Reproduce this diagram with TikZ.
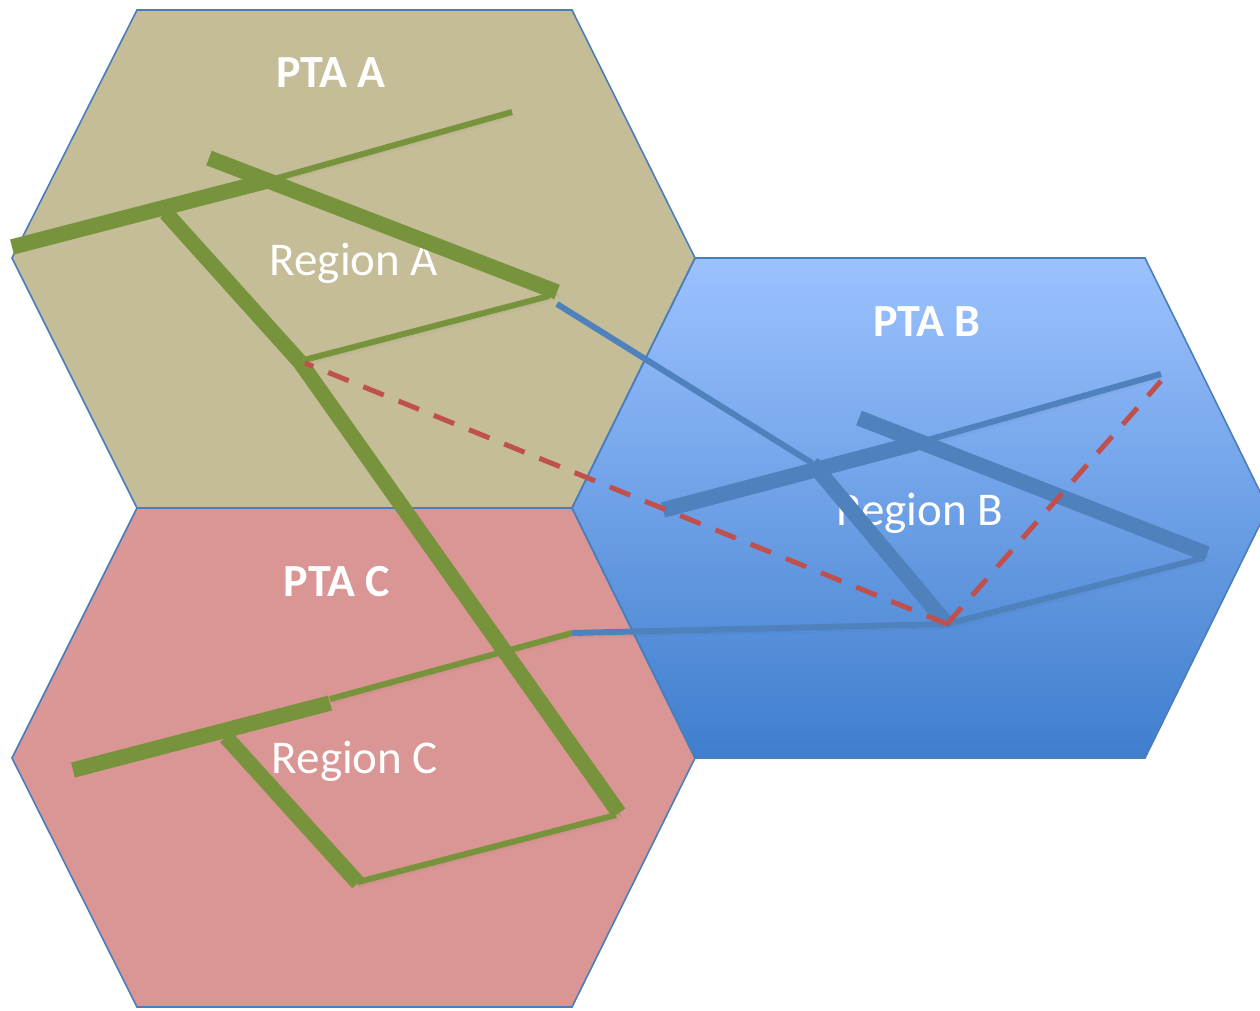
\documentclass[tikz,border=0pt]{standalone}
\usepackage{fontspec}
\setmainfont{Carlito}
\definecolor{tanfill}{HTML}{C4BD97}
\definecolor{pinkfill}{HTML}{D99694}
\definecolor{bluetop}{HTML}{9CC2FF}
\definecolor{bluebot}{HTML}{3F7ECD}
\definecolor{edgeblue}{HTML}{4A7EBB}
\definecolor{roadgreen}{HTML}{77933C}
\definecolor{roadblue}{HTML}{4F81BD}
\definecolor{dashred}{HTML}{C0504D}
\begin{document}
\begin{tikzpicture}[x=1pt,y=-1pt,
  hexedge/.style={draw=edgeblue,line width=1.6pt,line join=miter},
  shd/.style={preaction={draw=black,draw opacity=0.06,transform canvas={shift={(3,5)}}},
              preaction={draw=black,draw opacity=0.09,transform canvas={shift={(2,3.5)}}},
              preaction={draw=black,draw opacity=0.12,transform canvas={shift={(1,2)}}}},
  thickgreen/.style={draw=roadgreen,line width=15.5pt,shd},
  thingreen/.style={draw=roadgreen,line width=6pt,shd},
  thickblue/.style={draw=roadblue,line width=15.5pt,shd},
  thinblue/.style={draw=roadblue,line width=6pt,shd},
  reddash/.style={draw=dashred,line width=5pt,dash pattern=on 22pt off 16pt},
  ptalabel/.style={anchor=base,text=white,font=\fontsize{46}{50}\selectfont\bfseries,inner sep=0pt},
  reglabel/.style={anchor=base,text=white,font=\fontsize{47}{50}\selectfont,inner sep=0pt}
]
\useasboundingbox (0,0) rectangle (1260,1010);
\begin{scope}
\clip (0,0) rectangle (1260,1010);
% hexagons
\fill[tanfill] (12,258) -- (137,10) -- (572,10) -- (695,258) -- (572,508) -- (137,508) -- cycle;
\fill[pinkfill] (12,758) -- (137,508) -- (572,508) -- (695,758) -- (572,1007) -- (137,1007) -- cycle;
\shade[top color=bluetop,bottom color=bluebot] (572,508) -- (695,258) -- (1145,258) -- (1268,508) -- (1145,758) -- (695,758) -- cycle;
\draw[hexedge] (12,258) -- (137,10) -- (572,10) -- (695,258) -- (572,508) -- (137,508) -- cycle;
\draw[hexedge] (12,758) -- (137,508) -- (572,508) -- (695,758) -- (572,1007) -- (137,1007) -- cycle;
\draw[hexedge] (572,508) -- (695,258) -- (1145,258) -- (1268,508) -- (1145,758) -- (695,758) -- cycle;
% labels
\node[ptalabel] (ptaA) at (331,87) {PTA A};
\node[reglabel] (regA) at (354,275) {Region A};
\node[ptalabel] (ptaB) at (927,336) {PTA B};
\node[reglabel] (regB) at (920,525) {Region B};
\node[ptalabel] (ptaC) at (337,596) {PTA C};
\node[reglabel] (regC) at (355,773) {Region C};
% road points
\coordinate (a1) at (12,247);
\coordinate (a2) at (267,181);
\coordinate (a3) at (512,112);
\coordinate (b1) at (209,158);
\coordinate (b2) at (557,292);
\coordinate (c1) at (166,213);
\coordinate (c2) at (300,362);
\coordinate (c3) at (619,813);
\coordinate (d1) at (304,360);
\coordinate (d2) at (549,296);
\coordinate (e1) at (557,304);
\coordinate (e2) at (812,463);
\coordinate (v) at (947,624);
\coordinate (f1) at (663,510);
\coordinate (f2) at (917,443);
\coordinate (f3) at (1161,374);
\coordinate (g1) at (859,418);
\coordinate (g2) at (1207,554);
\coordinate (h2) at (1203,558);
\coordinate (i1) at (572,633);
\coordinate (j1) at (73,770);
\coordinate (j2) at (330,703);
\coordinate (j3) at (330,699);
\coordinate (k1) at (226,737);
\coordinate (k2) at (358,883);
\coordinate (l1) at (358,882);
\coordinate (l2) at (616,815);
\coordinate (r1) at (305,363);
\coordinate (r2) at (1161,381);
% green roads
\draw[thingreen] (a2) -- (a3);
\draw[thickgreen] (a1) -- (a2);
\draw[thickgreen] (b1) -- (b2);
\draw[thickgreen] (c1) -- (c2);
\draw[thingreen] (d1) -- (d2);
\draw[thingreen] (j3) -- (i1);
\draw[thickgreen] (c2) -- (c3);
\draw[thickgreen] (j1) -- (j2);
\draw[thickgreen] (k1) -- (k2);
\draw[thingreen] (l1) -- (l2);
% blue roads
\draw[thinblue] (i1) -- (v);
\draw[thinblue] (v) -- (h2);
\draw[thinblue] (e1) -- (e2);
\draw[thinblue] (f2) -- (f3);
\draw[thickblue] (f1) -- (f2);
\draw[thickblue] (e2) -- (v);
\draw[thickblue] (g1) -- (g2);
% red dashed
\draw[reddash] (v) -- (r1);
\draw[reddash] (v) -- (r2);
\end{scope}
\end{tikzpicture}
\end{document}
